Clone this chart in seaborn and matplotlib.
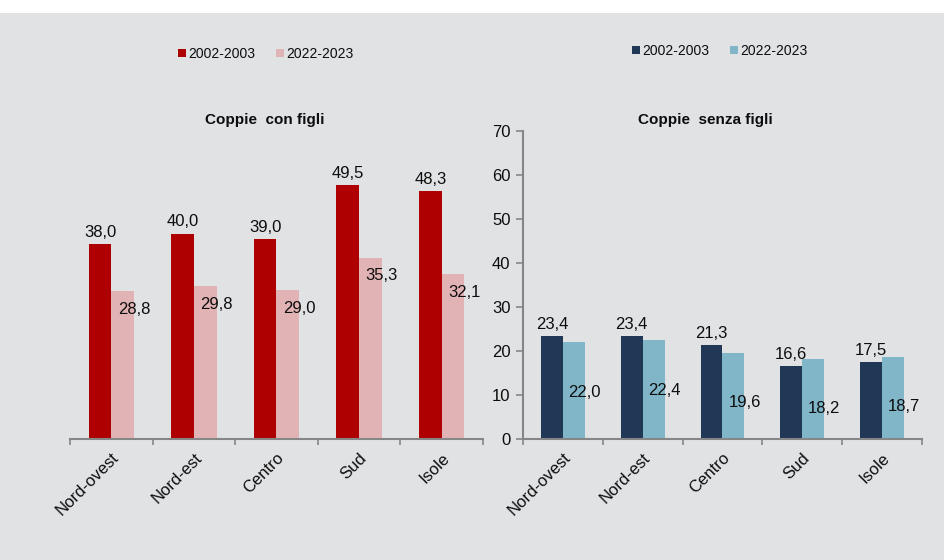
import numpy as np
import pandas as pd
import matplotlib
matplotlib.use('Agg')
import matplotlib.pyplot as plt
import seaborn as sns
from matplotlib.patches import Patch, Rectangle

# dati
regioni = ['Nord-ovest', 'Nord-est', 'Centro', 'Sud', 'Isole']
periodi = ['2002-2003', '2022-2023']
con_figli_2002 = [38.0, 40.0, 39.0, 49.5, 48.3]
con_figli_2022 = [28.8, 29.8, 29.0, 35.3, 32.1]
senza_figli_2002 = [23.4, 23.4, 21.3, 16.6, 17.5]
senza_figli_2022 = [22.0, 22.4, 19.6, 18.2, 18.7]
yticks_destra = [0, 10, 20, 30, 40, 50, 60, 70]

BG = '#e1e2e4'
AXIS_GREY = '#868686'
TXT = '#0d0d0d'

sns.set_style('white')
plt.rcParams['font.family'] = ['Liberation Sans', 'DejaVu Sans']


def to_long(v1, v2):
    return pd.DataFrame({
        'regione': regioni * 2,
        'periodo': [periodi[0]] * len(regioni) + [periodi[1]] * len(regioni),
        'valore': v1 + v2,
    })


def fmt(v):
    return f"{v:.1f}".replace('.', ',')


def draw_panel(ax, v1, v2, colors, title, ymax, title_x, light_off):
    df = to_long(v1, v2)
    sns.barplot(data=df, x='regione', y='valore', hue='periodo', palette=colors,
                width=0.55, saturation=1, linewidth=0, legend=False, ax=ax)
    ax.set_facecolor(BG)
    ax.set_xlim(-0.5, len(regioni) - 0.5)
    ax.set_ylim(0, ymax)
    ax.set_xlabel('')
    ax.set_ylabel('')

    # tacche ai bordi delle categorie, etichette al centro
    ax.set_xticks(np.arange(-0.5, len(regioni), 1))
    ax.set_xticklabels([])
    ax.set_xticks(np.arange(len(regioni)), minor=True)
    ax.set_xticklabels(regioni, minor=True, rotation=45, ha='right',
                       rotation_mode='anchor', fontsize=12, color=TXT)
    ax.tick_params(axis='x', which='major', direction='out', length=4,
                   width=1.2, color=AXIS_GREY, bottom=True)
    ax.tick_params(axis='x', which='minor', length=0, pad=8)

    for s in ['top', 'right']:
        ax.spines[s].set_visible(False)
    ax.spines['bottom'].set_color(AXIS_GREY)
    ax.spines['bottom'].set_linewidth(1.5)

    # etichette dei valori
    ax.bar_label(ax.containers[0], labels=[fmt(v) for v in v1], padding=3,
                 fontsize=12, color=TXT)
    for bar, v in zip(ax.containers[1], v2):
        ax.annotate(fmt(v), (bar.get_x() + bar.get_width(), bar.get_height()),
                    xytext=(0, -light_off), textcoords='offset points',
                    ha='center', va='center', fontsize=12, color=TXT)

    ax.set_title(title, x=title_x, y=1.0, pad=5, fontsize=11, fontweight='bold',
                 color=TXT)


fig = plt.figure(figsize=(9.45, 5.6), dpi=100, facecolor=BG)
ax1 = fig.add_axes([70 / 945, 121 / 560, 413 / 945, 308 / 560])
ax2 = fig.add_axes([523 / 945, 121 / 560, 399 / 945, 308 / 560])

rossi = ['#ae0000', '#e2b3b5']
blu = ['#213756', '#81b6c9']

draw_panel(ax1, con_figli_2002, con_figli_2022, rossi, 'Coppie  con figli', 60, 0.472, 13)
draw_panel(ax2, senza_figli_2002, senza_figli_2022, blu, 'Coppie  senza figli', 70, 0.456, 36)

# pannello sinistro senza asse y
ax1.spines['left'].set_visible(False)
ax1.set_yticks([])

ax2.set_yticks(yticks_destra)
ax2.set_yticklabels([str(t) for t in yticks_destra], fontsize=12)
ax2.spines['left'].set_color(AXIS_GREY)
ax2.spines['left'].set_linewidth(1.5)
ax2.tick_params(axis='y', direction='out', length=5, width=1.2, color=AXIS_GREY,
                left=True, pad=4, labelcolor=TXT)

# legende in alto
for cols, xpos, ypos in [(rossi, 178, 54), (blu, 632, 51)]:
    handles = [Patch(facecolor=c, edgecolor='none', label=p) for c, p in zip(cols, periodi)]
    fig.legend(handles=handles, loc='center left', bbox_to_anchor=(xpos / 945, 1 - ypos / 560),
               ncol=2, frameon=False, fontsize=10, handlelength=0.55, handleheight=0.55,
               handletextpad=0.2, columnspacing=1.5, borderaxespad=0, borderpad=0,
               labelcolor=TXT)

# striscia bianca in alto
fig.patches.append(Rectangle((0, 1 - 13 / 560), 1, 13 / 560, transform=fig.transFigure,
                             facecolor='white', edgecolor='none', zorder=-1))

fig.savefig('out.png', dpi=100, facecolor=BG)
